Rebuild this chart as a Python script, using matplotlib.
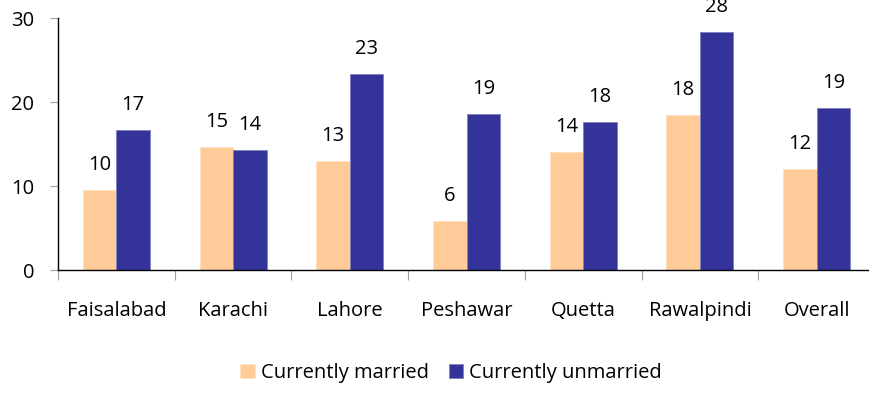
import matplotlib.pyplot as plt
import numpy as np

cities = ["Faisalabad", "Karachi", "Lahore", "Peshawar", "Quetta", "Rawalpindi", "Overall"]
married = [9.5, 14.6, 13.0, 5.8, 14.0, 18.4, 12.0]
unmarried = [16.7, 14.3, 23.3, 18.6, 17.6, 28.3, 19.3]

plt.rcParams['font.family'] = ['Open Sans', 'DejaVu Sans']
fs = 14.5

fig = plt.figure(figsize=(8.69, 3.95), dpi=100)
# axis runs a little past the right edge of the figure
ax = fig.add_axes([58/869, 125/395, 817/869, 252/395])

x = np.arange(len(cities))
w = 0.287
b1 = ax.bar(x - w/2, married, w, color="#FFCC99", edgecolor="#FFE0C0", linewidth=0.6, label="Currently married")
b2 = ax.bar(x + w/2, unmarried, w, color="#333399", edgecolor="#8080C0", linewidth=0.6, label="Currently unmarried")

for bars, vals in [(b1, married), (b2, unmarried)]:
    for bar, v in zip(bars, vals):
        ax.annotate(f"{v:.0f}", (bar.get_x() + bar.get_width()/2, v),
                    xytext=(0, 25), textcoords="offset pixels",
                    ha="center", va="center", fontsize=fs, annotation_clip=False)

ax.set_xlim(-0.5, len(cities) - 0.5)
ax.set_ylim(0, 30)
ax.set_yticks([0, 10, 20, 30])
ax.set_xticks(np.arange(len(cities) + 1) - 0.5, minor=False)
ax.set_xticklabels([])
ax.set_xticks(x, minor=True)
ax.set_xticklabels(cities, minor=True)
ax.tick_params(axis="x", which="major", length=7, color="#A0A0A0", direction="out")
ax.tick_params(axis="x", which="minor", length=0, pad=22, labelsize=fs)
ax.tick_params(axis="y", length=6, color="#A0A0A0", labelsize=fs, pad=11)

for s in ["top", "right"]:
    ax.spines[s].set_visible(False)
ax.spines["left"].set_linewidth(1)
ax.spines["bottom"].set_linewidth(1)

fig.legend(loc="center", bbox_to_anchor=(451/869, 1 - 373/395), ncol=2, frameon=False,
           fontsize=fs, handlelength=0.7, handleheight=0.7, handletextpad=0.3, columnspacing=1.0)

fig.savefig("out.png", dpi=100)
